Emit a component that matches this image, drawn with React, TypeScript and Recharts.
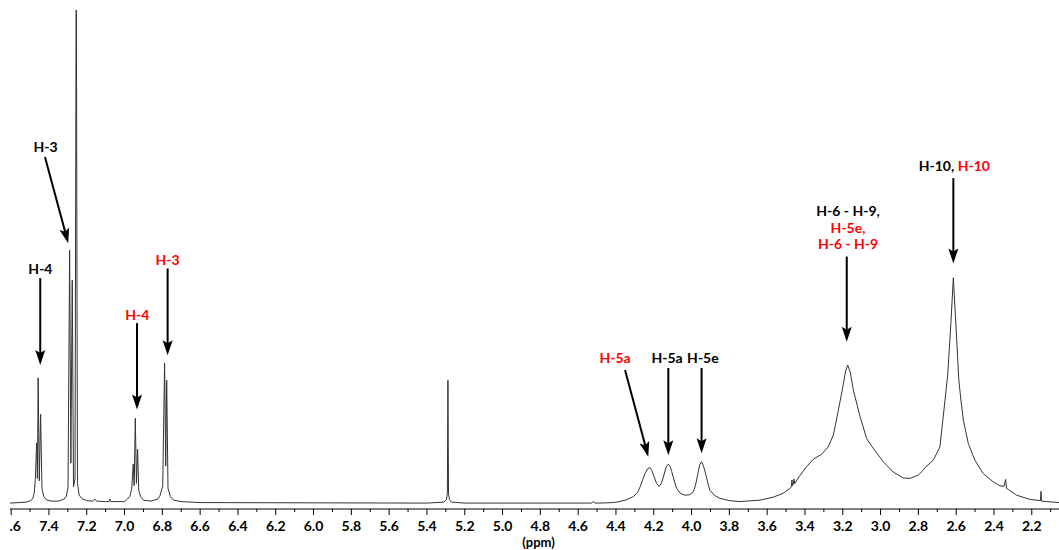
import React from 'react';
import { LineChart, Line, XAxis, YAxis, ReferenceLine, ReferenceDot } from 'recharts';

// [chemical shift (ppm), relative intensity]
const aromaticRegion: [number, number][] = [
  [7.606, 0.0], [7.56, 0.1], [7.52, 0.2], [7.495, 0.5], [7.485, 1.0], [7.478, 2.0],
  [7.472, 4.8], [7.465, 12.2], [7.461, 5.0], [7.457, 25.4], [7.451, 4.5], [7.444, 18.0],
  [7.437, 3.0], [7.428, 1.4], [7.415, 0.7], [7.39, 0.4], [7.35, 0.4], [7.32, 0.8],
  [7.308, 1.4], [7.299, 3.2], [7.2905, 51.3], [7.284, 8.1], [7.2767, 45.2], [7.27, 3.3],
  [7.262, 5.0], [7.2556, 112], [7.249, 4.0], [7.24, 1.6], [7.225, 0.9], [7.2, 0.5],
  [7.168, 0.4], [7.158, 0.8], [7.148, 0.4], [7.1, 0.3], [7.082, 0.3], [7.078, 0.8],
  [7.073, 0.3], [7.0, 0.3], [6.985, 0.8], [6.971, 1.4], [6.962, 3.0], [6.954, 7.9],
  [6.949, 3.5], [6.943, 17.2], [6.937, 4.0], [6.931, 10.9], [6.925, 2.6], [6.915, 1.3],
  [6.9, 0.6], [6.86, 0.4], [6.825, 0.8], [6.813, 1.4], [6.798, 3.5], [6.788, 28.4],
  [6.782, 7.5], [6.777, 24.9], [6.77, 3.0], [6.757, 1.3], [6.74, 0.6], [6.7, 0.3],
  [6.6, 0.1],
];

const solventRegion: [number, number][] = [
  [5.4, 0.0], [5.31, 0.2], [5.297, 0.7], [5.292, 2.0], [5.289, 24.9], [5.286, 2.0],
  [5.281, 0.7], [5.27, 0.2], [5.2, 0.0], [4.53, 0.0], [4.518, 0.3], [4.51, 0.0],
];

const methineRegion: [number, number][] = [
  [4.485, 0.0], [4.42, 0.1], [4.395, 0.2], [4.35, 0.6], [4.308, 1.3], [4.285, 2.2],
  [4.272, 3.3], [4.258, 4.8], [4.246, 6.0], [4.232, 7.0], [4.22, 7.2], [4.21, 6.6],
  [4.202, 5.7], [4.185, 4.0], [4.171, 3.4], [4.16, 4.0], [4.149, 5.3], [4.135, 7.3],
  [4.123, 7.9], [4.112, 7.3], [4.105, 6.4], [4.09, 4.3], [4.079, 3.0], [4.06, 2.0],
  [4.035, 1.6], [4.01, 1.7], [3.991, 2.3], [3.98, 3.5], [3.97, 5.3], [3.957, 7.8],
  [3.947, 8.4], [3.937, 7.5], [3.924, 5.7], [3.912, 3.8], [3.903, 2.6], [3.88, 1.6],
  [3.85, 0.95], [3.8, 0.5], [3.744, 0.3],
];

const aliphaticRegion: [number, number][] = [
  [3.638, 0.6], [3.568, 1.2], [3.515, 2.0], [3.479, 3.0], [3.472, 3.3], [3.469, 4.7],
  [3.466, 3.5], [3.463, 3.8], [3.458, 4.9], [3.455, 3.9], [3.432, 5.3], [3.391, 7.4],
  [3.356, 8.9], [3.312, 9.9], [3.277, 11.4], [3.25, 13.8], [3.238, 16.0], [3.225, 18.5],
  [3.196, 24.3], [3.185, 26.8], [3.174, 28.0], [3.16, 26.5], [3.144, 22.9], [3.109, 17.6],
  [3.074, 13.1], [3.039, 11.1], [2.986, 8.4], [2.933, 6.3], [2.88, 5.1], [2.844, 5.0],
  [2.8, 5.7], [2.776, 6.6], [2.765, 7.2], [2.721, 8.7], [2.686, 11.4], [2.659, 20.9],
  [2.645, 26.0], [2.63, 35.1], [2.615, 45.7], [2.6, 35.1], [2.586, 25.0], [2.575, 20.9],
  [2.562, 16.8], [2.536, 12.1], [2.501, 8.7], [2.457, 6.0], [2.404, 4.3], [2.368, 3.5],
  [2.347, 3.4], [2.338, 4.8], [2.334, 3.0], [2.28, 1.6], [2.21, 0.75], [2.154, 0.5],
  [2.151, 2.4], [2.149, 0.4], [2.056, 0.1],
];

const majorTicks = [7.6, 7.4, 7.2, 7.0, 6.8, 6.6, 6.4, 6.2, 6.0, 5.8, 5.6, 5.4, 5.2, 5.0, 4.8, 4.6, 4.4, 4.2, 4.0, 3.8, 3.6, 3.4, 3.2, 3.0, 2.8, 2.6, 2.4, 2.2];
const minorTicks = [7.5, 7.3, 7.1, 6.9, 6.7, 6.5, 6.3, 6.1, 5.9, 5.7, 5.5, 5.3, 5.1, 4.9, 4.7, 4.5, 4.3, 4.1, 3.9, 3.7, 3.5, 3.3, 3.1, 2.9, 2.7, 2.5, 2.3, 2.1];

const BLACK = '#000000';
const RED = '#ff0000';

// assignment labels: one entry per text line, [ppm, intensity]
const labelLines: { ppm: number; y: number; parts: [string, string][] }[] = [
  { ppm: 7.4175, y: 72.5, parts: [['H-3', BLACK]] },
  { ppm: 7.445, y: 47.6, parts: [['H-4', BLACK]] },
  { ppm: 6.933, y: 38.3, parts: [['H-4', RED]] },
  { ppm: 6.772, y: 49.6, parts: [['H-3', RED]] },
  { ppm: 4.405, y: 29.6, parts: [['H-5a', RED]] },
  { ppm: 4.13, y: 29.6, parts: [['H-5a', BLACK]] },
  { ppm: 3.94, y: 29.6, parts: [['H-5e', BLACK]] },
  { ppm: 3.172, y: 59.4, parts: [['H-6 - H-9,', BLACK]] },
  { ppm: 3.172, y: 56.0, parts: [['H-5e,', RED]] },
  { ppm: 3.172, y: 52.7, parts: [['H-6 - H-9', RED]] },
  { ppm: 2.61, y: 68.6, parts: [['H-10, ', BLACK], ['H-10', RED]] },
];

// arrows: [fromPpm, fromIntensity, toPpm, toIntensity]
const arrows: [number, number, number, number][] = [
  [7.421, 70.2, 7.298, 52.7],
  [7.446, 45.6, 7.446, 28.0],
  [6.934, 36.5, 6.934, 19.0],
  [6.772, 47.6, 6.772, 30.0],
  [4.352, 27.0, 4.229, 9.4],
  [4.123, 27.4, 4.123, 9.7],
  [3.947, 27.4, 3.947, 10.1],
  [3.179, 50.0, 3.179, 32.7],
  [2.615, 65.9, 2.615, 48.6],
];

const spectrum = [...aromaticRegion, ...solventRegion, ...methineRegion, ...aliphaticRegion].map(
  ([ppm, intensity]) => ({ ppm, intensity }),
);

const PLOT_LEFT = 10;
const FONT = "Lato, 'Open Sans', sans-serif";

const AxisTick = (props: any) => {
  const { x, y, payload } = props;
  const value = payload.value as number;
  const isMajor = majorTicks.some((t) => Math.abs(t - value) < 1e-6);
  const clipId = `tick-clip-${value.toFixed(1)}`;
  return (
    <g>
      <line x1={x} x2={x} y1={y} y2={y + (isMajor ? 6 : 3)} stroke="#000" strokeWidth={1} />
      {isMajor && (
        <>
          <defs>
            <clipPath id={clipId}>
              <rect x={PLOT_LEFT} y={y} width={1200} height={40} />
            </clipPath>
          </defs>
          <text
            x={x}
            y={y + 22}
            textAnchor="middle"
            fontSize={14}
            fontWeight={700}
            fill="#000"
            fontFamily={FONT}
            clipPath={`url(#${clipId})`}
          >
            {value.toFixed(1)}
          </text>
        </>
      )}
    </g>
  );
};

const ArrowShape = (props: any) => {
  const { x1, y1, x2, y2 } = props;
  const dx = x2 - x1;
  const dy = y2 - y1;
  const len = Math.sqrt(dx * dx + dy * dy) || 1;
  const ux = dx / len;
  const uy = dy / len;
  const headLen = 15;
  const half = 5;
  const bx = x2 - ux * headLen;
  const by = y2 - uy * headLen;
  const pts = [
    `${x2},${y2}`,
    `${bx - uy * half},${by + ux * half}`,
    `${bx + ux * 3},${by + uy * 3}`,
    `${bx + uy * half},${by - ux * half}`,
  ].join(' ');
  return (
    <g>
      <line x1={x1} y1={y1} x2={bx + ux * 4} y2={by + uy * 4} stroke="#000" strokeWidth={2} />
      <polygon points={pts} fill="#000" />
    </g>
  );
};

const LabelShape = (parts: [string, string][]) => (props: any) => {
  const { cx, cy } = props;
  return (
    <text x={cx} y={cy} textAnchor="middle" dominantBaseline="central" fontSize={14} fontWeight={700} fontFamily={FONT}>
      {parts.map(([t, c], i) => (
        <tspan key={i} fill={c} style={{ whiteSpace: 'pre' }}>
          {t}
        </tspan>
      ))}
    </text>
  );
};

export default function App() {
  return (
    <div style={{ position: 'absolute', left: 0, top: 0, width: 1059, height: 550, background: '#fff', fontFamily: FONT }}>
      <LineChart width={1059} height={550} data={spectrum} margin={{ top: 10, right: 0, left: PLOT_LEFT, bottom: 0 }}>
        <XAxis
          dataKey="ppm"
          type="number"
          domain={[2.056, 7.606]}
          reversed
          allowDataOverflow
          ticks={[...majorTicks, ...minorTicks].sort((a, b) => b - a)}
          interval={0}
          tickSize={0}
          tickMargin={0}
          tickLine={false}
          tick={<AxisTick />}
          axisLine={{ stroke: '#000', strokeWidth: 1 }}
          height={41}
          label={{ value: '(ppm)', position: 'insideBottom', offset: 3, dx: 4, fill: '#000', fontSize: 13, fontWeight: 700 }}
        />
        <YAxis type="number" domain={[-1.2, 100]} allowDataOverflow hide width={0} />
        <Line
          type="linear"
          dataKey="intensity"
          stroke="#333333"
          strokeWidth={1}
          dot={false}
          activeDot={false}
          isAnimationActive={false}
        />
        {arrows.map(([fx, fy, tx, ty], i) => (
          <ReferenceLine
            key={`arrow-${i}`}
            segment={[{ x: fx, y: fy }, { x: tx, y: ty }]}
            ifOverflow="visible"
            shape={(p: any) => <ArrowShape {...p} />}
          />
        ))}
        {labelLines.map((l, i) => (
          <ReferenceDot key={`label-${i}`} x={l.ppm} y={l.y} ifOverflow="visible" shape={LabelShape(l.parts)} />
        ))}
      </LineChart>
    </div>
  );
}
